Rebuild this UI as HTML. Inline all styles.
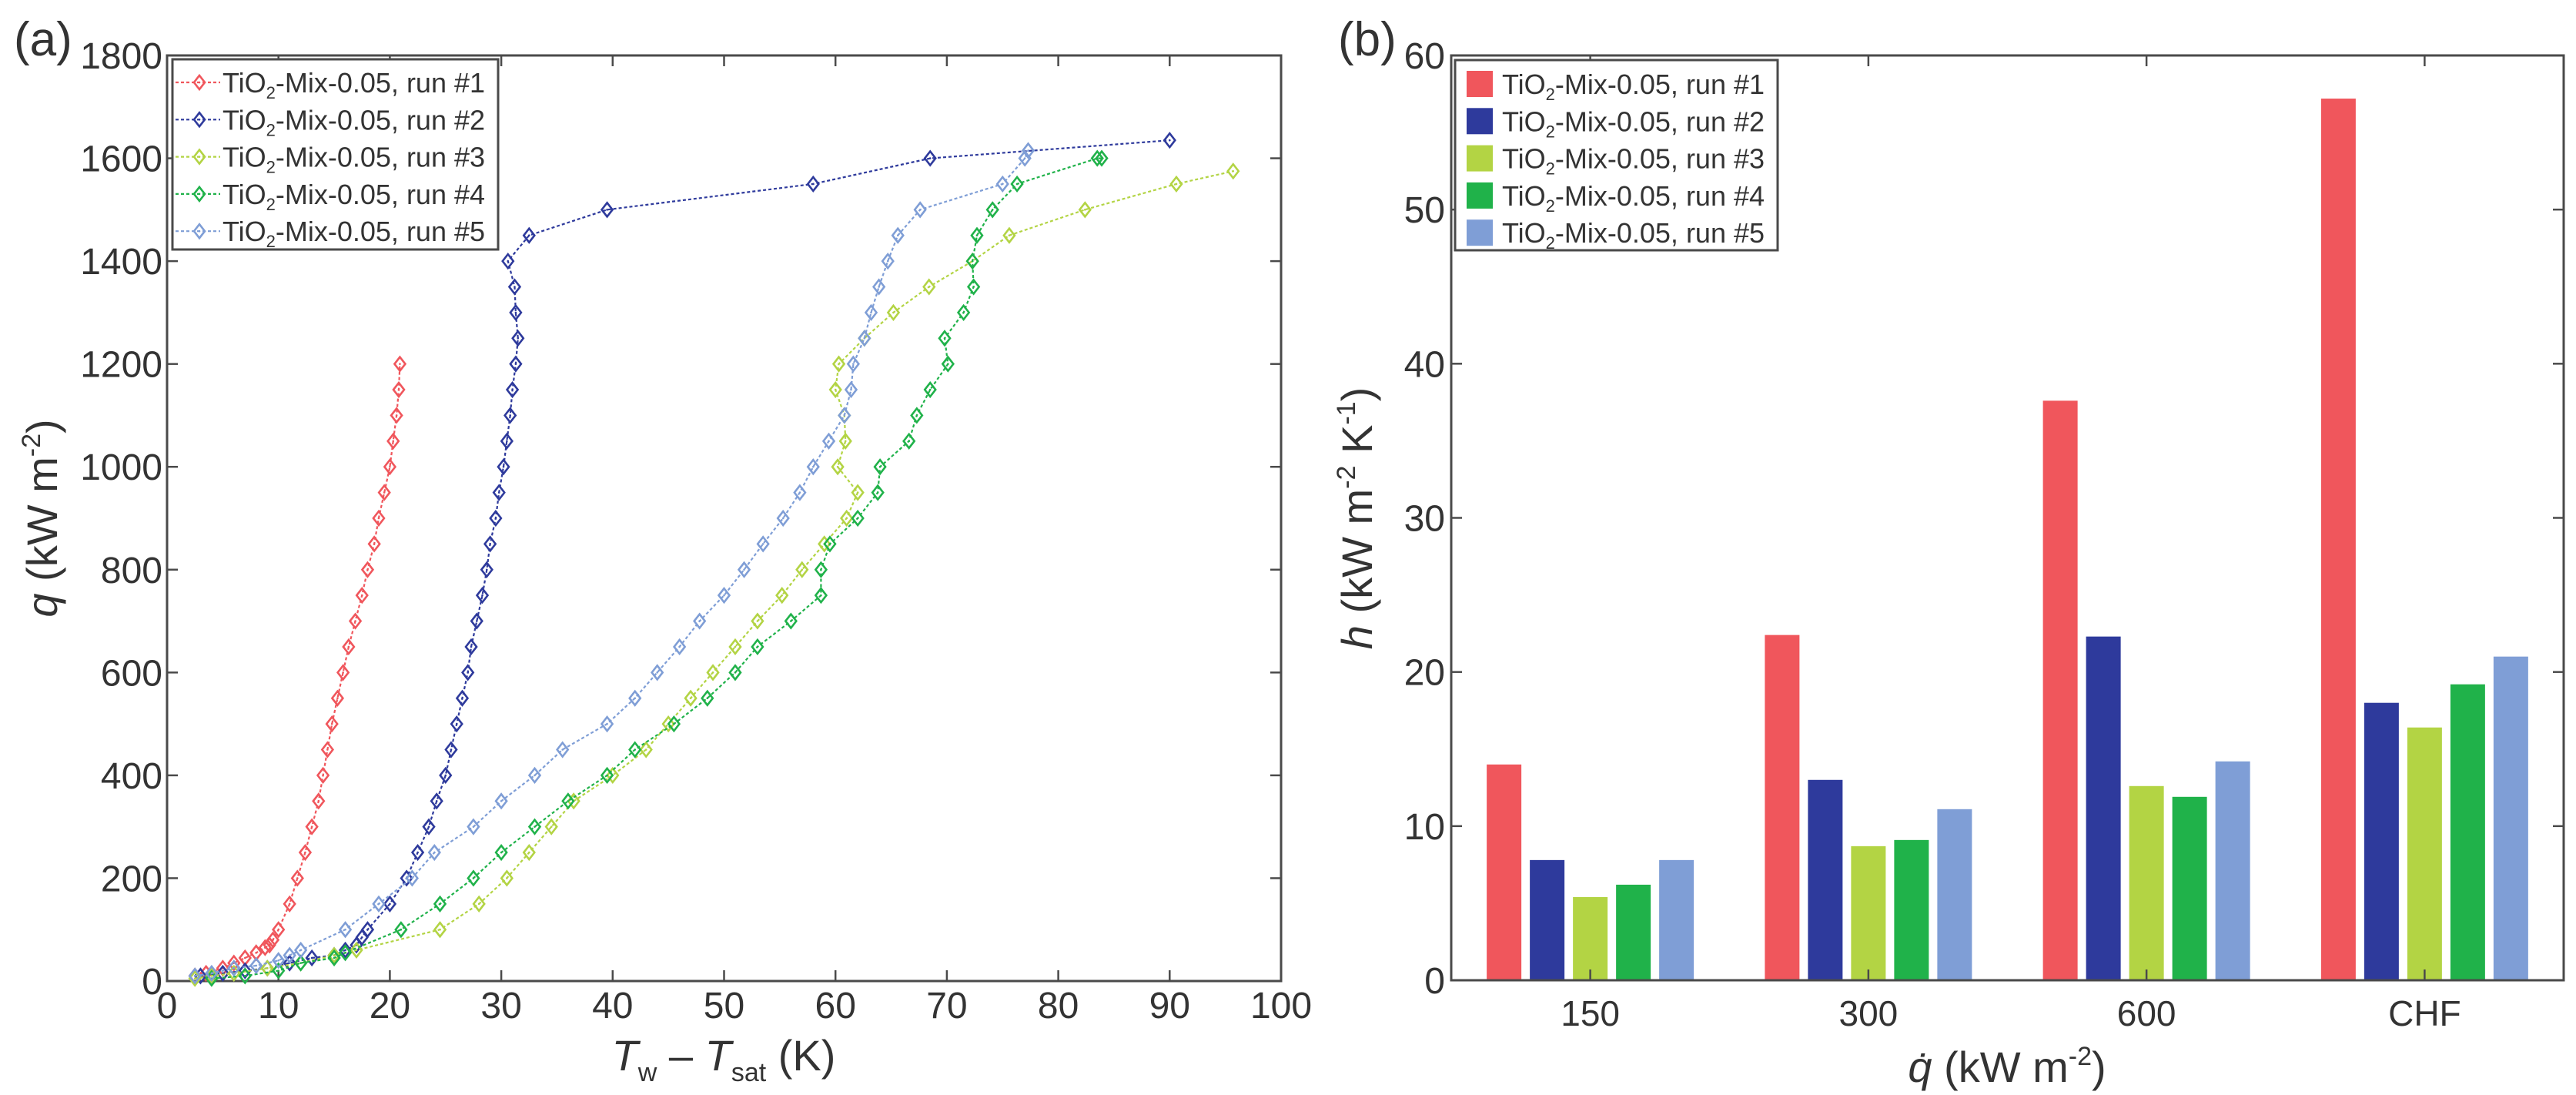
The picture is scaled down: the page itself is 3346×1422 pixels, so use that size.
<!DOCTYPE html>
<html><head><meta charset="utf-8"><style>
html,body{margin:0;padding:0;background:#fff}
svg{display:block}
text{font-family:"Liberation Sans",Arial,sans-serif;fill:#333}
</style></head><body>
<svg id="fig" width="3346" height="1422" viewBox="0 0 3346 1422" xmlns="http://www.w3.org/2000/svg">
<rect width="3346" height="1422" fill="#fff"/>
<g id="pa"></g>
<g id="pb"></g>
</svg>
<script>
// ---------- Panel (a) data ----------
const seriesNames = ["TiO\u2082-Mix-0.05, run #1","TiO\u2082-Mix-0.05, run #2","TiO\u2082-Mix-0.05, run #3","TiO\u2082-Mix-0.05, run #4","TiO\u2082-Mix-0.05, run #5"];
const seriesColors = ["#f0565c","#2e3a9c","#b3d444","#20b24a","#7f9ed6"];
const run1X = [2.5,3.5,5,6,7,8,8.8,9.2,9.5,10,11,11.7,12.4,13,13.6,14,14.4,14.8,15.3,15.8,16.3,16.9,17.5,18,18.6,19,19.5,20,20.3,20.6,20.8,20.9];
const run1Q = [10,15,25,35,45,55,65,70,80,100,150,200,250,300,350,400,450,500,550,600,650,700,750,800,850,900,950,1000,1050,1100,1150,1200];
const run2X = [3,5,7,9,11,13,15,16,17,17.5,18,20,21.5,22.5,23.5,24.2,25,25.5,26,26.5,27,27.3,27.8,28.3,28.7,29,29.5,29.8,30.2,30.5,30.8,31,31.3,31.5,31.3,31.2,30.6,32.5,39.5,58,68.5,90];
const run2Q = [10,15,20,25,35,45,50,60,70,85,100,150,200,250,300,350,400,450,500,550,600,650,700,750,800,850,900,950,1000,1050,1100,1150,1200,1250,1300,1350,1400,1450,1500,1550,1600,1635];
const run3X = [2.5,4,6,9,12,15,17,24.5,28,30.5,32.5,34.5,36.5,40,43,45,47,49,51,53,55.2,57,59,61,62,60.2,60.9,60.8,60,60.3,62.6,65.2,68.4,72.3,75.6,82.4,90.6,95.7];
const run3Q = [5,10,15,25,35,50,60,100,150,200,250,300,350,400,450,500,550,600,650,700,750,800,850,900,950,1000,1050,1100,1150,1200,1250,1300,1350,1400,1450,1500,1550,1575];
const run4X = [4,7,10,12,15,16,21,24.5,27.5,30,33,36,39.5,42,45.5,48.5,51,53,56,58.7,58.7,59.5,62,63.8,64,66.6,67.3,68.5,70.1,69.8,71.5,72.4,72.3,72.7,74.1,76.3,83.5,83.9];
const run4Q = [5,10,20,35,45,55,100,150,200,250,300,350,400,450,500,550,600,650,700,750,800,850,900,950,1000,1050,1100,1150,1200,1250,1300,1350,1400,1450,1500,1550,1600,1600];
const run5X = [2.5,4,6,8,10,11,12,16,19,22,24,27.5,30,33,35.5,39.5,42,44,46,47.8,50,51.8,53.5,55.3,56.8,58,59.4,60.8,61.4,61.6,62.6,63.2,63.9,64.7,65.6,67.6,75,77,77.3];
const run5Q = [10,15,25,30,40,50,60,100,150,200,250,300,350,400,450,500,550,600,650,700,750,800,850,900,950,1000,1050,1100,1150,1200,1250,1300,1350,1400,1450,1500,1550,1600,1615];
const xTicksA = [0,10,20,30,40,50,60,70,80,90,100];
const yTicksA = [0,200,400,600,800,1000,1200,1400,1600,1800];

// ---------- Panel (b) data ----------
const barCategories = ["150","300","600","CHF"];
const barRun1 = [14.0,22.4,37.6,57.2];
const barRun2 = [7.8,13.0,22.3,18.0];
const barRun3 = [5.4,8.7,12.6,16.4];
const barRun4 = [6.2,9.1,11.9,19.2];
const barRun5 = [7.8,11.1,14.2,21.0];
const yTicksB = [0,10,20,30,40,50,60];

const NS="http://www.w3.org/2000/svg";
function mk(tag,attrs,parent){const e=document.createElementNS(NS,tag);for(const k in attrs)e.setAttribute(k,attrs[k]);if(parent)parent.appendChild(e);return e;}

// ===== Panel A =====
const pa=document.getElementById('pa');
const A={l:217,r:1664,t:72,b:1274};
const ax=v=>A.l+(v-0)/100*(A.r-A.l);
const ay=v=>A.b-(v-0)/1800*(A.b-A.t);
const axisColor="#4a4a4a";
const frameA=mk('rect',{x:A.l,y:A.t,width:A.r-A.l,height:A.b-A.t,fill:'none',stroke:axisColor,'stroke-width':3},pa);


xTicksA.forEach(v=>{
  const x=ax(v);
  const t1=mk('line',{x1:x,y1:A.b,x2:x,y2:A.b-14,stroke:axisColor,'stroke-width':2.5},pa);
  
  
  mk('line',{x1:x,y1:A.t,x2:x,y2:A.t+14,stroke:axisColor,'stroke-width':2.5},pa);
  const tl=mk('text',{x:x,y:1322,'font-size':48,'text-anchor':'middle'},pa);
  tl.textContent=v;
  
  
});
yTicksA.forEach(v=>{
  const y=ay(v);
  const t1=mk('line',{x1:A.l,y1:y,x2:A.l+14,y2:y,stroke:axisColor,'stroke-width':2.5},pa);
  
  
  mk('line',{x1:A.r,y1:y,x2:A.r-14,y2:y,stroke:axisColor,'stroke-width':2.5},pa);
  const tl=mk('text',{x:A.l-6,y:y+17,'font-size':48,'text-anchor':'end'},pa);
  tl.textContent=v;
  
  
});
const seriesX=[run1X,run2X,run3X,run4X,run5X];
const seriesQ=[run1Q,run2Q,run3Q,run4Q,run5Q];
function diamond(g,x,y,c){
  const d=mk('path',{d:`M${x} ${y-9}L${x+7} ${y}L${x} ${y+9}L${x-7} ${y}Z`,fill:'none',stroke:c,'stroke-width':2.6},g);
  
  
  mk('circle',{cx:x,cy:y,r:1.3,fill:c},g);
}
seriesX.forEach((xs,i)=>{
  const g=mk('g',{},pa);
  
  
  const pts=xs.map((x,j)=>ax(x).toFixed(1)+','+ay(seriesQ[i][j]).toFixed(1)).join(' ');
  const pl=mk('polyline',{points:pts,fill:'none',stroke:seriesColors[i],'stroke-width':2.2,'stroke-dasharray':'4 3'},g);
  
  
  xs.forEach((x,j)=>diamond(g,ax(x),ay(seriesQ[i][j]),seriesColors[i]));
});
// legend a
const lgA=mk('g',{},pa);


mk('rect',{x:224,y:77,width:423,height:247,fill:'#fff',stroke:axisColor,'stroke-width':3},lgA);
seriesNames.forEach((n,i)=>{
  const y=107+i*48.3;
  const e=mk('g',{},lgA);
  
  
  mk('line',{x1:228,y1:y,x2:286,y2:y,stroke:seriesColors[i],'stroke-width':2.2,'stroke-dasharray':'4 3'},e);
  diamond(e,259,y,seriesColors[i]);
  const t=mk('text',{x:289,y:y+13,'font-size':36},e);
  t.innerHTML='TiO<tspan font-size="22" dy="8">2</tspan><tspan dy="-8">-Mix-0.05, run #'+(i+1)+'</tspan>';
});
let t=mk('text',{x:18,y:72,'font-size':62},pa);t.textContent='(a)';

t=mk('text',{x:0,y:0,'font-size':56,'text-anchor':'middle',transform:'translate(74,673) rotate(-90)'},pa);
t.innerHTML='<tspan font-style="italic">q</tspan> (kW m<tspan font-size="34" dy="-22">-2</tspan><tspan dy="22">)</tspan>';

t=mk('text',{x:940,y:1390,'font-size':56,'text-anchor':'middle'},pa);
t.innerHTML='<tspan font-style="italic">T</tspan><tspan font-size="34" dy="14">w</tspan><tspan dy="-14"> \u2013 </tspan><tspan font-style="italic">T</tspan><tspan font-size="34" dy="14">sat</tspan><tspan dy="-14"> (K)</tspan>';


// ===== Panel B =====
const pb=document.getElementById('pb');
const B={l:1885,r:3330,t:72,b:1273};
const by=v=>B.b-v/60*(B.b-B.t);
const groupW=(B.r-B.l)/barCategories.length;
const bx=i=>B.l+groupW*(i+0.5);
const barSeries=[barRun1,barRun2,barRun3,barRun4,barRun5];
const barSpacing=56, barWidth=45;
barSeries.forEach((vals,s)=>{
  vals.forEach((v,i)=>{
    const cx=bx(i)+(s-2)*barSpacing;
    const r=mk('rect',{x:cx-barWidth/2,y:by(v),width:barWidth,height:B.b-by(v),fill:seriesColors[s]},pb);
    
    
  });
});
const frameB=mk('rect',{x:B.l,y:B.t,width:B.r-B.l,height:B.b-B.t,fill:'none',stroke:axisColor,'stroke-width':3},pb);


barCategories.forEach((c,i)=>{
  const x=bx(i);
  mk('line',{x1:x,y1:B.b,x2:x,y2:B.b-14,stroke:axisColor,'stroke-width':2.5},pb);
  mk('line',{x1:x,y1:B.t,x2:x,y2:B.t+14,stroke:axisColor,'stroke-width':2.5},pb);
  const tl=mk('text',{x:x,y:1332,'font-size':46,'text-anchor':'middle'},pb);
  tl.textContent=c;
  
  
});
yTicksB.forEach(v=>{
  const y=by(v);
  mk('line',{x1:B.l,y1:y,x2:B.l+14,y2:y,stroke:axisColor,'stroke-width':2.5},pb);
  mk('line',{x1:B.r,y1:y,x2:B.r-14,y2:y,stroke:axisColor,'stroke-width':2.5},pb);
  const tl=mk('text',{x:B.l-8,y:y+17,'font-size':48,'text-anchor':'end'},pb);
  tl.textContent=v;
  
  
});
const lgB=mk('g',{},pb);


mk('rect',{x:1890,y:78,width:419,height:247,fill:'#fff',stroke:axisColor,'stroke-width':3},lgB);
seriesNames.forEach((n,i)=>{
  const y=109+i*48.3;
  const e=mk('g',{},lgB);
  
  
  mk('rect',{x:1905,y:y-17,width:34,height:34,fill:seriesColors[i]},e);
  const tt=mk('text',{x:1951,y:y+13,'font-size':36},e);
  tt.innerHTML='TiO<tspan font-size="22" dy="8">2</tspan><tspan dy="-8">-Mix-0.05, run #'+(i+1)+'</tspan>';
});
t=mk('text',{x:1738,y:72,'font-size':62},pb);t.textContent='(b)';

t=mk('text',{x:0,y:0,'font-size':56,'text-anchor':'middle',transform:'translate(1782,673) rotate(-90)'},pb);
t.innerHTML='<tspan font-style="italic">h</tspan> (kW m<tspan font-size="34" dy="-22">-2</tspan><tspan dy="22"> K</tspan><tspan font-size="34" dy="-22">-1</tspan><tspan dy="22">)</tspan>';

t=mk('text',{x:2607,y:1405,'font-size':56,'text-anchor':'middle'},pb);
t.innerHTML='<tspan font-style="italic">q\u0307</tspan> (kW m<tspan font-size="34" dy="-22">-2</tspan><tspan dy="22">)</tspan>';

</script>
</body></html>
